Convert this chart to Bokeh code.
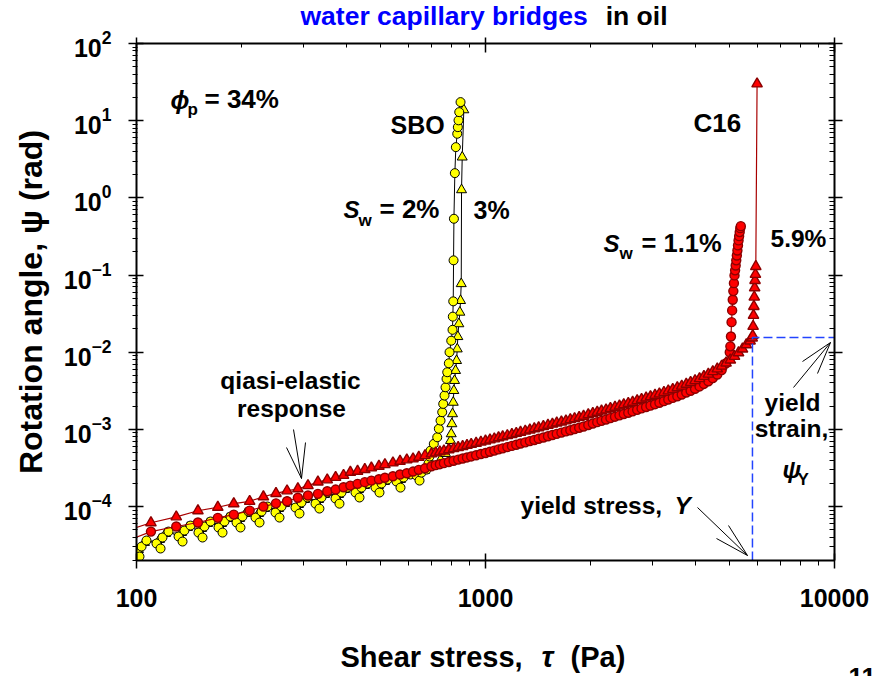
import math
from bokeh.plotting import figure
from bokeh.layouts import column, row
from bokeh.models import Range1d, LogAxis, FixedTicker, Label, CustomJSTickFormatter
from bokeh.embed import file_html
from bokeh.resources import INLINE

# ---------------------------------------------------------------------------
# Rotation angle psi (rad) versus applied shear stress tau (Pa)
# ---------------------------------------------------------------------------

# C16 oil: both water fractions share the same stress ramp below ~4.9 kPa
c16_tau_ramp = [90, 110, 130, 150, 171, 190, 211, 231, 251, 270, 290, 310, 331, 352,
                372, 392, 410, 430, 451, 471, 495, 515, 543, 569, 595, 620, 644, 671,
                700, 720, 740, 760, 785, 810, 835, 860, 885, 910, 940, 970, 1000, 1030,
                1060, 1090, 1120, 1155, 1190, 1225, 1260, 1300, 1340, 1380, 1420, 1465,
                1510, 1555, 1600, 1650, 1700, 1750, 1800, 1855, 1910, 1970, 2030, 2090,
                2150, 2215, 2280, 2350, 2420, 2490, 2565, 2640, 2720, 2800, 2885, 2970,
                3060, 3150, 3245, 3340, 3440, 3545, 3650, 3760, 3870, 3985, 4105, 4225,
                4350, 4480, 4615, 4750, 4890]

# C16, S_w = 5.9 % (triangles)
c16_59_psi_ramp = [4.56e-5, 6.17e-5, 7.36e-5, 8.83e-5, 9.79e-5, 1.09e-4, 1.17e-4, 1.34e-4,
                   1.48e-4, 1.60e-4, 1.70e-4, 1.87e-4, 2.08e-4, 2.22e-4, 2.39e-4, 2.54e-4,
                   2.78e-4, 2.87e-4, 3.02e-4, 3.17e-4, 3.33e-4, 3.50e-4, 3.68e-4, 3.86e-4,
                   4.03e-4, 4.15e-4, 4.35e-4, 4.58e-4,
                   4.82e-4, 4.97e-4, 5.12e-4, 5.26e-4, 5.46e-4, 5.64e-4, 5.83e-4, 6.01e-4,
                   6.21e-4, 6.40e-4, 6.62e-4, 6.85e-4, 7.08e-4, 7.31e-4, 7.55e-4, 7.80e-4,
                   8.04e-4, 8.32e-4, 8.61e-4, 8.89e-4, 9.18e-4, 9.51e-4, 9.84e-4, 1.02e-3,
                   1.05e-3, 1.09e-3, 1.13e-3, 1.17e-3, 1.21e-3, 1.25e-3, 1.29e-3, 1.34e-3,
                   1.38e-3, 1.43e-3, 1.48e-3, 1.55e-3, 1.61e-3, 1.67e-3, 1.73e-3, 1.79e-3,
                   1.87e-3, 1.94e-3, 2.01e-3, 2.09e-3, 2.17e-3, 2.25e-3, 2.36e-3, 2.45e-3,
                   2.55e-3, 2.66e-3, 2.77e-3, 2.89e-3, 3.02e-3, 3.16e-3, 3.30e-3, 3.47e-3,
                   3.64e-3, 3.85e-3, 4.06e-3, 4.29e-3, 4.55e-3, 4.86e-3, 5.20e-3, 5.60e-3,
                   6.08e-3, 6.61e-3, 7.24e-3]
c16_59_tau_tail = [5030, 5170, 5310, 5450, 5590, 5730, 5810, 5830, 5845, 5860, 5875, 5890,
                   5905, 5920, 5935, 5950, 6000]
c16_59_psi_tail = [7.93e-3, 8.83e-3, 9.84e-3, 1.10e-2, 1.25e-2, 1.40e-2, 1.53e-2, 1.64e-2,
                   2.16e-2, 3.00e-2, 3.92e-2, 5.18e-2, 6.84e-2, 8.51e-2, 0.102, 0.129, 30.0]

# C16, S_w = 1.1 % (circles)
c16_11_psi_ramp = [3.32e-5, 4.74e-5, 5.51e-5, 6.21e-5, 7.14e-5, 7.87e-5, 8.87e-5, 1.00e-4,
                   1.10e-4, 1.17e-4, 1.30e-4, 1.39e-4, 1.46e-4, 1.58e-4, 1.66e-4, 1.78e-4,
                   1.87e-4, 1.97e-4, 2.07e-4, 2.17e-4, 2.26e-4, 2.36e-4, 2.47e-4, 2.60e-4,
                   2.70e-4, 2.84e-4, 2.99e-4, 3.13e-4,
                   3.33e-4, 3.44e-4, 3.54e-4, 3.65e-4, 3.78e-4, 3.92e-4, 4.06e-4, 4.19e-4,
                   4.33e-4, 4.46e-4, 4.62e-4, 4.79e-4, 4.95e-4, 5.13e-4, 5.31e-4, 5.50e-4,
                   5.68e-4, 5.89e-4, 6.11e-4, 6.32e-4, 6.55e-4, 6.79e-4, 7.05e-4, 7.29e-4,
                   7.57e-4, 7.85e-4, 8.15e-4, 8.45e-4, 8.75e-4, 9.08e-4, 9.42e-4, 9.75e-4,
                   1.01e-3, 1.05e-3, 1.09e-3, 1.14e-3, 1.19e-3, 1.24e-3, 1.29e-3, 1.34e-3,
                   1.40e-3, 1.46e-3, 1.52e-3, 1.58e-3, 1.64e-3, 1.71e-3, 1.79e-3, 1.87e-3,
                   1.95e-3, 2.03e-3, 2.12e-3, 2.21e-3, 2.32e-3, 2.44e-3, 2.56e-3, 2.69e-3,
                   2.83e-3, 3.00e-3, 3.17e-3, 3.36e-3, 3.60e-3, 3.88e-3, 4.20e-3, 4.61e-3,
                   5.14e-3, 5.86e-3, 7.19e-3]
c16_11_tau_tail = [5010, 5030, 5050, 5070, 5090, 5110, 5130, 5150, 5170, 5190, 5210, 5230,
                   5250, 5270, 5290, 5310, 5330, 5350, 5370, 5390]
c16_11_psi_tail = [1.00e-2, 1.19e-2, 1.60e-2, 2.45e-2, 3.48e-2, 4.79e-2, 6.19e-2, 7.85e-2,
                   9.89e-2, 0.115, 0.133, 0.155, 0.179, 0.208, 0.242, 0.281, 0.319, 0.360,
                   0.405, 0.430]

# SBO oil, S_w = 2 % (circles)
sbo2_tau = [100.7, 102.0, 103.4, 106.8, 114.1, 117.2, 118.7, 123.5, 132.0, 135.5, 137.2,
            142.8, 150.5, 154.6, 156.6, 163.0, 171.8, 176.4, 178.7, 185.9, 193.5, 198.6,
            201.2, 209.4, 219.3, 225.2, 228.2, 237.4, 250.2, 256.9, 260.3, 270.8, 285.5,
            293.1, 297.0, 309.0, 325.8, 334.3, 338.9, 352.6, 371.7, 381.6, 386.7, 402.3,
            424.1, 435.5, 441.2, 459.0, 484.0, 496.9, 503.5, 524.0, 555.9, 570.7, 582.2,
            609.7, 634.3, 647.1, 655.6, 677.6, 686.6, 691.2, 695.8, 711.1, 727.3, 735.0,
            743.3, 751.6, 756.6, 763.1, 768.2, 773.3, 776.9, 785.1, 788.8, 797.7, 804.5,
            806.0, 808.3, 810.0, 812.0, 816.9, 822.3, 829.9, 833.2, 837.0, 840.9, 848.2]
sbo2_psi = [2.46e-5, 2.25e-5, 3.03e-5, 3.63e-5, 3.32e-5, 2.86e-5, 3.97e-5, 4.74e-5, 4.09e-5,
            3.52e-5, 4.89e-5, 5.67e-5, 4.60e-5, 3.97e-5, 5.51e-5, 6.40e-5, 5.35e-5, 4.60e-5,
            6.40e-5, 7.42e-5, 6.21e-5, 5.35e-5, 7.42e-5, 8.61e-5, 7.20e-5, 6.21e-5, 8.61e-5,
            1.00e-4, 8.36e-5, 7.20e-5, 1.00e-4, 1.16e-4, 9.70e-5, 8.12e-5, 1.13e-4, 1.31e-4,
            1.09e-4, 9.42e-5, 1.31e-4, 1.52e-4, 1.27e-4, 1.09e-4, 1.52e-4, 1.76e-4, 1.52e-4,
            1.31e-4, 1.76e-4, 1.99e-4, 1.76e-4, 1.52e-4, 1.99e-4, 2.24e-4, 2.11e-4, 1.76e-4,
            2.38e-4, 2.60e-4, 2.52e-4, 2.17e-4, 2.75e-4, 3.01e-4, 3.61e-4, 4.45e-4, 5.31e-4,
            6.49e-4, 7.90e-4, 1.02e-3, 1.30e-3, 1.67e-3, 2.14e-3, 2.74e-3, 3.51e-3, 4.51e-3,
            5.50e-3, 7.18e-3, 1.00e-2, 1.41e-2, 1.95e-2, 2.89e-2, 4.56e-2, 0.155, 0.536,
            2.09, 4.54, 6.77, 8.24, 10.1, 12.9, 17.4]

# SBO oil, S_w = 3 % (triangles)
sbo3_tau = [101.3, 105.4, 116.4, 121.1, 134.6, 140.0, 153.6, 159.8, 175.2, 182.3, 197.4,
            205.3, 223.7, 232.8, 255.2, 265.5, 291.1, 303.0, 332.3, 345.7, 379.1, 394.4,
            432.6, 450.1, 493.7, 513.6, 570.8, 593.8, 642.9, 668.8, 705.0, 743.3, 768.2,
            785.1, 794.0, 797.7, 800.9, 804.5, 808.3, 811.5, 815.3, 820.7, 826.2, 829.9,
            833.2, 838.7, 844.3, 848.2, 852.1, 853.8, 857.7, 866.8]
sbo3_psi = [2.77e-5, 3.42e-5, 3.74e-5, 4.47e-5, 4.60e-5, 5.35e-5, 5.19e-5, 6.02e-5, 6.02e-5,
            6.99e-5, 6.99e-5, 8.12e-5, 8.12e-5, 9.42e-5, 9.42e-5, 1.09e-4, 1.06e-4, 1.23e-4,
            1.23e-4, 1.43e-4, 1.43e-4, 1.66e-4, 1.66e-4, 1.87e-4, 1.87e-4, 2.11e-4, 2.24e-4,
            2.52e-4, 2.68e-4, 2.93e-4, 3.40e-4, 4.06e-4, 4.86e-4, 5.59e-4, 7.16e-4, 8.75e-4,
            1.18e-3, 1.59e-3, 2.24e-3, 3.18e-3, 4.29e-3, 5.78e-3, 7.78e-3, 1.10e-2, 1.59e-2,
            2.33e-2, 3.29e-2, 4.66e-2, 7.71e-2, 1.27, 3.37, 13.8]

# yield point of the C16 / 5.9 % sample
yield_stress = 5820.0
yield_strain = 1.55e-2

# axis ticks
x_major = [100, 1000, 10000]
y_major_exp = [-4, -3, -2, -1, 0, 1, 2]

# ---------------------------------------------------------------------------
TAU_MIN, TAU_MAX = 100.0, 10000.0
PSI_MIN, PSI_MAX = 2e-5, 100.0
W, H = 875, 676
STRIP_TOP = 30      # title strip height
STRIP_BOTTOM = 56   # x-title strip height
LEFT, RIGHT, TOP, BOTTOM = 136, 834, 43, 560   # plot frame on the page
FONT = "Liberation Sans"
BASE_SHIFT = 0.36   # label anchor -> alphabetic baseline, in font sizes

MAIN_H = H - STRIP_TOP - STRIP_BOTTOM


def at(px, py):
    """Page pixel position -> (tau, psi) on the log-log axes."""
    fx = (px - LEFT) / (RIGHT - LEFT)
    fy = (BOTTOM - py) / (BOTTOM - TOP)
    return (TAU_MIN * (TAU_MAX / TAU_MIN) ** fx,
            PSI_MIN * (PSI_MAX / PSI_MIN) ** fy)


def same(px, py):
    return px, py


def label(fig, conv, px, py, text, size, color="black", style="bold", align="left"):
    """Text whose alphabetic baseline passes through page pixel (px, py)."""
    x, y = conv(px, py - BASE_SHIFT * size)
    fig.add_layout(Label(x=x, y=y, text=text, text_font=FONT, text_font_size=f"{size}px",
                         text_font_style=style, text_color=color, text_align=align,
                         text_baseline="alphabetic"))


def strip(width, height, x0, y0):
    """Blank panel whose data coordinates are page pixels (y downwards)."""
    s = figure(width=width, height=height, x_range=Range1d(x0, x0 + width),
               y_range=Range1d(y0 + height, y0), output_backend="svg",
               toolbar_location=None, x_axis_location=None, y_axis_location=None,
               min_border=0)
    s.outline_line_color = None
    s.grid.visible = False
    s.background_fill_color = "white"
    s.border_fill_color = "white"
    return s


# ---- main log-log plot ----
p = figure(width=W, height=MAIN_H, x_axis_type="log", y_axis_type="log",
           x_range=Range1d(TAU_MIN, TAU_MAX), y_range=Range1d(PSI_MIN, PSI_MAX),
           output_backend="svg", toolbar_location=None,
           min_border_left=LEFT, min_border_right=W - RIGHT,
           min_border_top=TOP - STRIP_TOP, min_border_bottom=H - STRIP_BOTTOM - BOTTOM)
p.outline_line_color = None
p.grid.visible = False
p.background_fill_color = "white"
p.border_fill_color = "white"

x_minor = [k * 10 ** n for n in (2, 3) for k in range(2, 10)]
y_minor = [k * 10.0 ** n for n in range(-5, 2) for k in range(2, 10) if k * 10.0 ** n >= PSI_MIN]
x_ticker = FixedTicker(ticks=x_major, minor_ticks=x_minor)
y_ticker = FixedTicker(ticks=[10.0 ** e for e in y_major_exp], minor_ticks=y_minor)
blank = CustomJSTickFormatter(code="return '';")

xa = p.xaxis[0]
xa.ticker = x_ticker
xa.formatter = CustomJSTickFormatter(code="return String(Math.round(tick));")
xa.major_tick_in, xa.major_tick_out = 7, 8
xa.minor_tick_in, xa.minor_tick_out = 0, 5
xa.major_label_standoff = 20

ya = p.yaxis[0]
ya.ticker = y_ticker
ya.major_tick_in, ya.major_tick_out = 7, 8
ya.minor_tick_in, ya.minor_tick_out = 1, 4
ya.major_label_standoff = 17
ya.axis_label = "Rotation angle, \u03c8 (rad)"
ya.axis_label_text_font = FONT
ya.axis_label_text_font_style = "bold"
ya.axis_label_text_font_size = "32px"
ya.axis_label_text_color = "black"
ya.axis_label_standoff = 12

for ax in (xa, ya):
    ax.axis_line_width = 2
    ax.axis_line_color = "black"
    ax.major_tick_line_color = "black"
    ax.minor_tick_line_color = "black"
    ax.major_tick_line_width = 1.5
    ax.major_label_text_font = FONT
    ax.major_label_text_font_style = "bold"
    ax.major_label_text_font_size = "25px"
    ax.major_label_text_color = "black"

top_ax = LogAxis(ticker=x_ticker, formatter=blank, major_tick_in=9, major_tick_out=6,
                 minor_tick_in=4, minor_tick_out=0, axis_line_width=2,
                 major_tick_line_width=1.5, major_label_text_font_size="1px",
                 major_label_standoff=0)
right_ax = LogAxis(ticker=y_ticker, formatter=blank, major_tick_in=6, major_tick_out=8,
                   minor_tick_in=5, minor_tick_out=0, axis_line_width=2,
                   major_tick_line_width=1.5, major_label_text_font_size="1px",
                   major_label_standoff=0)
p.add_layout(top_ax, "above")
p.add_layout(right_ax, "right")

# ---- series ----
RED, DARK_RED, LINE_RED = "#FF0000", "#8B0000", "#A80000"
YELLOW = "#FFFF00"

p.line(sbo3_tau, sbo3_psi, line_color="black", line_width=1)
p.scatter(sbo3_tau, sbo3_psi, marker="triangle", size=10, fill_color=YELLOW,
          line_color="black", line_width=1)
p.line(sbo2_tau, sbo2_psi, line_color="black", line_width=1)
p.scatter(sbo2_tau, sbo2_psi, marker="circle", size=9, fill_color=YELLOW,
          line_color="black", line_width=1)

c16_11_tau = c16_tau_ramp + c16_11_tau_tail
c16_11_psi = c16_11_psi_ramp + c16_11_psi_tail
c16_59_tau = c16_tau_ramp + c16_59_tau_tail
c16_59_psi = c16_59_psi_ramp + c16_59_psi_tail

p.line(c16_11_tau, c16_11_psi, line_color=LINE_RED, line_width=1.2)
p.scatter(c16_11_tau, c16_11_psi, marker="circle", size=9, fill_color=RED,
          line_color=DARK_RED, line_width=1.4)
p.line(c16_59_tau, c16_59_psi, line_color=LINE_RED, line_width=1.2)
p.scatter(c16_59_tau, c16_59_psi, marker="triangle", size=10.5, fill_color=RED,
          line_color=DARK_RED, line_width=1.4)

# yield construction (blue dashed)
p.line([yield_stress, yield_stress, TAU_MAX], [PSI_MIN, yield_strain, yield_strain],
       line_color="#2244FF", line_width=1.5, line_dash="9 4")

# thin arrows pointing at features (page pixels)
arrows = [
    [(293, 429), (301, 478)], [(286, 447), (301, 478)], [(305, 442), (301, 478)],
    [(697, 507), (747, 555)], [(716, 538), (747, 555)], [(728, 525), (747, 555)],
    [(793, 387), (830, 342)], [(802, 361), (830, 342)], [(817, 373), (830, 342)],
]
x0s, y0s, x1s, y1s = [], [], [], []
for (a, b) in arrows:
    ta, pa = at(*a)
    tb, pb = at(*b)
    x0s.append(ta); y0s.append(pa); x1s.append(tb); y1s.append(pb)
p.segment(x0s, y0s, x1s, y1s, line_color="black", line_width=1)

# in-plot annotations
label(p, at, 170, 108, "\u03d5", 25, style="bold italic")
label(p, at, 187, 115, "p", 17)
label(p, at, 204, 108, "= 34%", 26)
label(p, at, 390, 133, "SBO", 25)
label(p, at, 693, 132, "C16", 26)
label(p, at, 343, 218, "S", 24, style="bold italic")
label(p, at, 358, 226, "w", 17)
label(p, at, 379, 218, "= 2%", 26)
label(p, at, 473, 218, "3%", 25)
label(p, at, 603, 252, "S", 24, style="bold italic")
label(p, at, 619, 259, "w", 17)
label(p, at, 641, 252, "= 1.1%", 25.5)
label(p, at, 770, 247, "5.9%", 24.5)
label(p, at, 290, 389, "qiasi-elastic", 24.5, align="center")
label(p, at, 291, 417, "response", 24.5, align="center")
label(p, at, 520, 514, "yield stress,", 24.5)
label(p, at, 674, 514, "Y", 24.5, style="bold italic")
label(p, at, 792, 411, "yield", 24.5, align="center")
label(p, at, 791, 437, "strain,", 24.5, align="center")
label(p, at, 782, 478, "\u03c8", 24, style="bold italic")
label(p, at, 797, 485, "Y", 17)

# ---- title strip ----
top = strip(W, STRIP_TOP, 0, 0)
label(top, same, 300, 25.5, "water capillary bridges", 26.5, color="#0000FF")
label(top, same, 667, 25.5, "in oil", 26.5, align="right")

# ---- x-title strip ----
bottom = strip(W, STRIP_BOTTOM, 0, H - STRIP_BOTTOM)
label(bottom, same, 340, 667, "Shear stress,", 29)
label(bottom, same, 547, 667, "\u03c4", 29, style="bold italic", align="center")
label(bottom, same, 570, 667, "(Pa)", 29)
label(bottom, same, 848, 686, "11", 26)

# the log-log plot sits in its own row so the strips keep their own frames
page = column(top, row(p), bottom)
open("out.html", "w").write(file_html(page, INLINE))
